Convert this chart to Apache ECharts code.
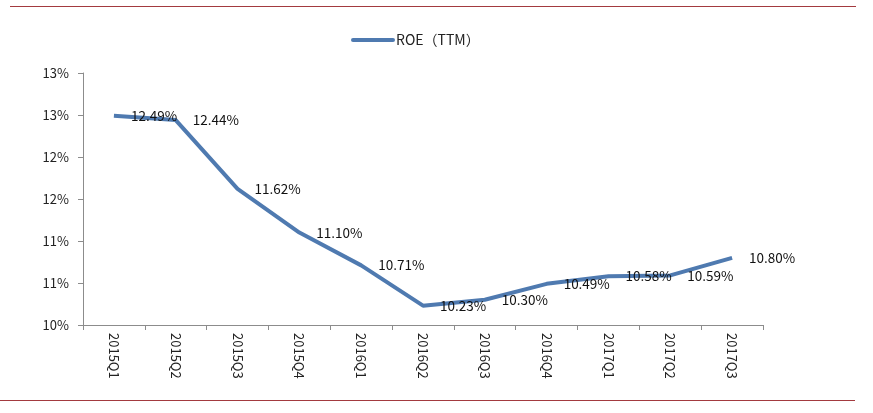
<!DOCTYPE html>
<html>
<head>
<meta charset="utf-8">
<script src="https://cdn.jsdelivr.net/npm/echarts@6/dist/echarts.min.js"></script>
<style>html,body{margin:0;padding:0;background:#fff;}#c{width:873px;height:413px;}</style>
</head>
<body>
<div id="c"></div>
<script>
const categories = ['2015Q1','2015Q2','2015Q3','2015Q4','2016Q1','2016Q2','2016Q3','2016Q4','2017Q1','2017Q2','2017Q3'];
const roeValues = [12.49, 12.44, 11.62, 11.10, 10.71, 10.23, 10.30, 10.49, 10.58, 10.59, 10.80];
const seriesName = 'ROE（TTM）';

const chart = echarts.init(document.getElementById('c'), null, {renderer: 'canvas'});
const font = '"Noto Sans CJK SC", "Noto Sans", sans-serif';
const lineColor = '#4f7ab0';
chart.setOption({
  animation: false,
  backgroundColor: '#fff',
  graphic: [
    {type: 'line', shape: {x1: 10, y1: 6.5, x2: 856, y2: 6.5}, style: {stroke: '#a33a3f', lineWidth: 1.2}},
    {type: 'line', shape: {x1: 0, y1: 400.5, x2: 855, y2: 400.5}, style: {stroke: '#a33a3f', lineWidth: 1.2}}
  ],
  legend: {
    top: 28, left: 346,
    itemWidth: 44, itemHeight: 14, itemGap: 4,
    icon: 'path://M2,5 L42,5 A2,2 0 0 1 42,9 L2,9 A2,2 0 0 1 2,5 Z',
    itemStyle: {color: lineColor, borderWidth: 0, opacity: 1},
    textStyle: {fontFamily: font, fontSize: 14, color: '#222', padding: [0,0,0,-4]},
    data: [seriesName]
  },
  grid: {left: 83, right: 110, top: 73, bottom: 88},
  xAxis: {
    type: 'category', data: categories, boundaryGap: true,
    axisLine: {lineStyle: {color: '#8c8c8c', width: 1}},
    axisTick: {show: true, length: 5, lineStyle: {color: '#8c8c8c'}, alignWithLabel: false},
    axisLabel: {rotate: -90, fontFamily: font, fontSize: 13, color: '#222', margin: 8}
  },
  yAxis: {
    type: 'value', min: 10, max: 13, interval: 0.5,
    axisLine: {show: true, lineStyle: {color: '#8c8c8c', width: 1}},
    axisTick: {show: true, length: 5, lineStyle: {color: '#8c8c8c'}},
    splitLine: {show: false},
    axisLabel: {fontFamily: font, fontSize: 13, color: '#222', margin: 14,
      formatter: v => Math.round(v) + '%'}
  },
  series: [{
    name: seriesName, type: 'line', data: roeValues,
    showSymbol: true, symbol: 'circle', symbolSize: 4,
    lineStyle: {color: lineColor, width: 4},
    itemStyle: {color: 'rgba(0,0,0,0)', borderWidth: 0},
    label: {show: true, position: 'right', distance: 15, fontFamily: font, fontSize: 13.5, color: '#111',
      formatter: p => p.value.toFixed(2) + '%'}
  }]
});
</script>
</body>
</html>
